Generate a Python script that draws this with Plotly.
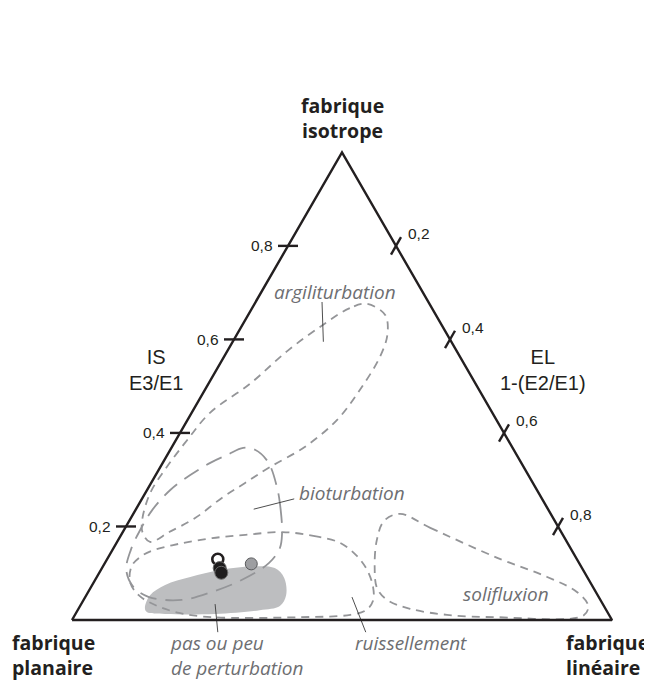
import numpy as np
import plotly.graph_objects as go

# ternary values: IS = isotropy (top corner), EL = elongation (bottom-right corner)
ARGI_IS = [0.676, 0.667, 0.631, 0.575, 0.505, 0.443, 0.385, 0.327, 0.272, 0.214, 0.186, 0.167,
           0.188, 0.218, 0.261, 0.293, 0.327, 0.370, 0.428, 0.492, 0.562, 0.610, 0.652, 0.676]
ARGI_EL = [0.208, 0.181, 0.149, 0.111, 0.077, 0.034, 0.021, 0.012, 0.009, 0.023, 0.038, 0.061,
           0.086, 0.119, 0.147, 0.174, 0.203, 0.246, 0.277, 0.287, 0.289, 0.279, 0.254, 0.208]

BIO_IS = [0.186, 0.235, 0.282, 0.338, 0.364, 0.368, 0.353, 0.336, 0.310, 0.278, 0.235, 0.192,
          0.150, 0.107, 0.071, 0.049, 0.043, 0.060, 0.086, 0.122, 0.154, 0.186]
BIO_EL = [0.296, 0.269, 0.239, 0.194, 0.157, 0.133, 0.111, 0.088, 0.064, 0.043, 0.031, 0.030,
          0.034, 0.047, 0.078, 0.118, 0.182, 0.229, 0.272, 0.304, 0.308, 0.296]

RUIS_IS = [0.188, 0.180, 0.165, 0.137, 0.107, 0.071, 0.041, 0.021, 0.011, 0.006, 0.006, 0.015,
           0.032, 0.053, 0.081, 0.115, 0.135, 0.148, 0.163, 0.175, 0.182, 0.188]
RUIS_EL = [0.295, 0.357, 0.414, 0.459, 0.493, 0.522, 0.537, 0.534, 0.510, 0.419, 0.256, 0.191,
           0.138, 0.097, 0.067, 0.053, 0.059, 0.074, 0.117, 0.172, 0.230, 0.295]

SOLI_IS = [0.227, 0.197, 0.133, 0.092, 0.060, 0.030, 0.009, 0.006, 0.011, 0.024, 0.043, 0.068,
           0.113, 0.171, 0.212, 0.227]
SOLI_EL = [0.494, 0.565, 0.721, 0.834, 0.905, 0.941, 0.942, 0.784, 0.689, 0.614, 0.562, 0.531,
           0.504, 0.479, 0.472, 0.494]

# gray field "pas ou peu de perturbation"
PAS_IS = [0.026, 0.053, 0.075, 0.092, 0.107, 0.115, 0.111, 0.090, 0.053, 0.030, 0.021, 0.013,
          0.013, 0.017, 0.026]
PAS_EL = [0.122, 0.118, 0.135, 0.173, 0.221, 0.281, 0.320, 0.348, 0.370, 0.370, 0.337, 0.258,
          0.166, 0.130, 0.122]

# samples
PT_OPEN = (0.130, 0.205)
PT_BLACK_IS = [0.111, 0.101]
PT_BLACK_EL = [0.218, 0.226]
PT_GRAY = (0.120, 0.272)

# leader lines (start, end) as (IS, EL)
LEADERS = [
    [(0.680, 0.123), (0.595, 0.168)],
    [(0.259, 0.282), (0.237, 0.218)],
    [(0.034, 0.248), (-0.026, 0.283)],
    [(0.049, 0.494), (-0.026, 0.557)],
]

TICKS = [0.2, 0.4, 0.6, 0.8]
TICK_TEXT = ["0,2", "0,4", "0,6", "0,8"]

INK = "#231f20"
DASH_GRAY = "#949598"
LABEL_GRAY = "#6d6e71"
FILL_GRAY = "#bdbec0"

SIDE = 540.0  # pixels per unit side of the triangle
H = np.sqrt(3) / 2
BODY = 8  # page margin around the plot div


def to_xy(is_vals, el_vals):
    a = np.asarray(is_vals, dtype=float)
    c = np.asarray(el_vals, dtype=float)
    return c + a / 2, a * H


def px(d):
    return d / SIDE


fig = go.Figure()

# filled field
x, y = to_xy(PAS_IS, PAS_EL)
fig.add_trace(go.Scatter(x=x, y=y, mode="lines", fill="toself", fillcolor=FILL_GRAY,
                         line=dict(width=0, shape="spline", smoothing=1.0), hoverinfo="skip"))

short_dash = "8px,6px"
long_dash = "17px,9px"
for is_v, el_v, dash in [(ARGI_IS, ARGI_EL, short_dash), (RUIS_IS, RUIS_EL, short_dash),
                         (SOLI_IS, SOLI_EL, short_dash), (BIO_IS, BIO_EL, long_dash)]:
    x, y = to_xy(is_v, el_v)
    fig.add_trace(go.Scatter(x=x, y=y, mode="lines",
                             line=dict(color=DASH_GRAY, width=1.8, dash=dash, shape="spline",
                                       smoothing=1.0),
                             hoverinfo="skip"))

# leader lines
for (s, e) in LEADERS:
    x, y = to_xy([s[0], e[0]], [s[1], e[1]])
    fig.add_trace(go.Scatter(x=x, y=y, mode="lines", line=dict(color="#3a3a3a", width=0.9),
                             hoverinfo="skip"))

# triangle frame
x, y = to_xy([0, 0, 1, 0], [0, 1, 0, 0])
fig.add_trace(go.Scatter(x=x, y=y, mode="lines", line=dict(color=INK, width=2.4),
                         hoverinfo="skip"))

annotations = []
half = px(10)
tick_font = dict(family="Liberation Sans, Arial", size=15.5, color=INK)
for v, t in zip(TICKS, TICK_TEXT):
    # IS ticks on the left edge, horizontal
    ex, ey = to_xy([v], [0])
    fig.add_trace(go.Scatter(x=[ex[0] - half, ex[0] + half], y=[ey[0], ey[0]], mode="lines",
                             line=dict(color=INK, width=2.4), hoverinfo="skip"))
    annotations.append(dict(x=ex[0] - half - px(3), y=ey[0], text=t, xanchor="right",
                            yanchor="middle", showarrow=False, font=tick_font))
    # EL ticks on the right edge, parallel to the left edge
    ex, ey = to_xy([1 - v], [v])
    dx, dy = half * 0.5, half * H
    fig.add_trace(go.Scatter(x=[ex[0] - dx, ex[0] + dx], y=[ey[0] - dy, ey[0] + dy], mode="lines",
                             line=dict(color=INK, width=2.4), hoverinfo="skip"))
    annotations.append(dict(x=ex[0] + px(10), y=ey[0] + px(12), text=t, xanchor="left",
                            yanchor="middle", showarrow=False, font=tick_font))

# sample points
x, y = to_xy([PT_OPEN[0]], [PT_OPEN[1]])
fig.add_trace(go.Scatter(x=x, y=y, mode="markers",
                         marker=dict(size=11, color="white", line=dict(color=INK, width=2.6)),
                         hoverinfo="skip"))
x, y = to_xy(PT_BLACK_IS, PT_BLACK_EL)
fig.add_trace(go.Scatter(x=x, y=y, mode="markers",
                         marker=dict(size=13, color="#1e1c1d", line=dict(color="#6a6a6a", width=1)),
                         hoverinfo="skip"))
x, y = to_xy([PT_GRAY[0]], [PT_GRAY[1]])
fig.add_trace(go.Scatter(x=x, y=y, mode="markers",
                         marker=dict(size=12, color="#9d9ea1", line=dict(color="#58595b", width=1)),
                         hoverinfo="skip"))


def at(xp, yp):
    # pixel position in the page -> axis coordinates
    return px(xp - 72), px(620 - yp)


def label(text, xp, yp, xanchor="center", **font):
    xa, ya = at(xp, yp)
    annotations.append(dict(x=xa, y=ya, text=text, xanchor=xanchor, yanchor="middle",
                            align="left" if xanchor == "left" else "center",
                            showarrow=False, font=font))


bold = dict(family="Open Sans", size=19.5, color=INK)
label("<b>fabrique</b><br><b>isotrope</b>", 342, 118, **bold)
label("<b>fabrique</b><br><b>planaire</b>", 10, 655, xanchor="left", **bold)
label("<b>fabrique</b><br><b>linéaire</b>", 564, 655, xanchor="left", **bold)

axis_font = dict(family="Liberation Sans, Arial", size=20, color=INK)
label("IS<br>E3/E1", 156, 370, **axis_font)
label("EL<br>1-(E2/E1)", 543, 370, **axis_font)

ital = dict(family="Open Sans", size=19, color=LABEL_GRAY)
label("<i>argiliturbation</i>", 335, 292, **ital)
label("<i>bioturbation</i>", 352, 493, **ital)
label("<i>solifluxion</i>", 506, 594, **ital)
label("<i>ruissellement</i>", 411, 643, **ital)
label("<i>pas ou peu</i><br><i>de perturbation</i>", 168, 655, xanchor="left", **ital)

fig.update_layout(
    width=652 - BODY, height=682 - BODY,
    margin=dict(l=0, r=0, t=0, b=0),
    paper_bgcolor="white", plot_bgcolor="white",
    showlegend=False,
    xaxis=dict(range=[px(BODY - 72), px(652 - 72)], visible=False, fixedrange=True),
    yaxis=dict(range=[px(620 - 682), px(620 - BODY)], visible=False, fixedrange=True),
    annotations=annotations,
)

fig.write_html("out.html")
